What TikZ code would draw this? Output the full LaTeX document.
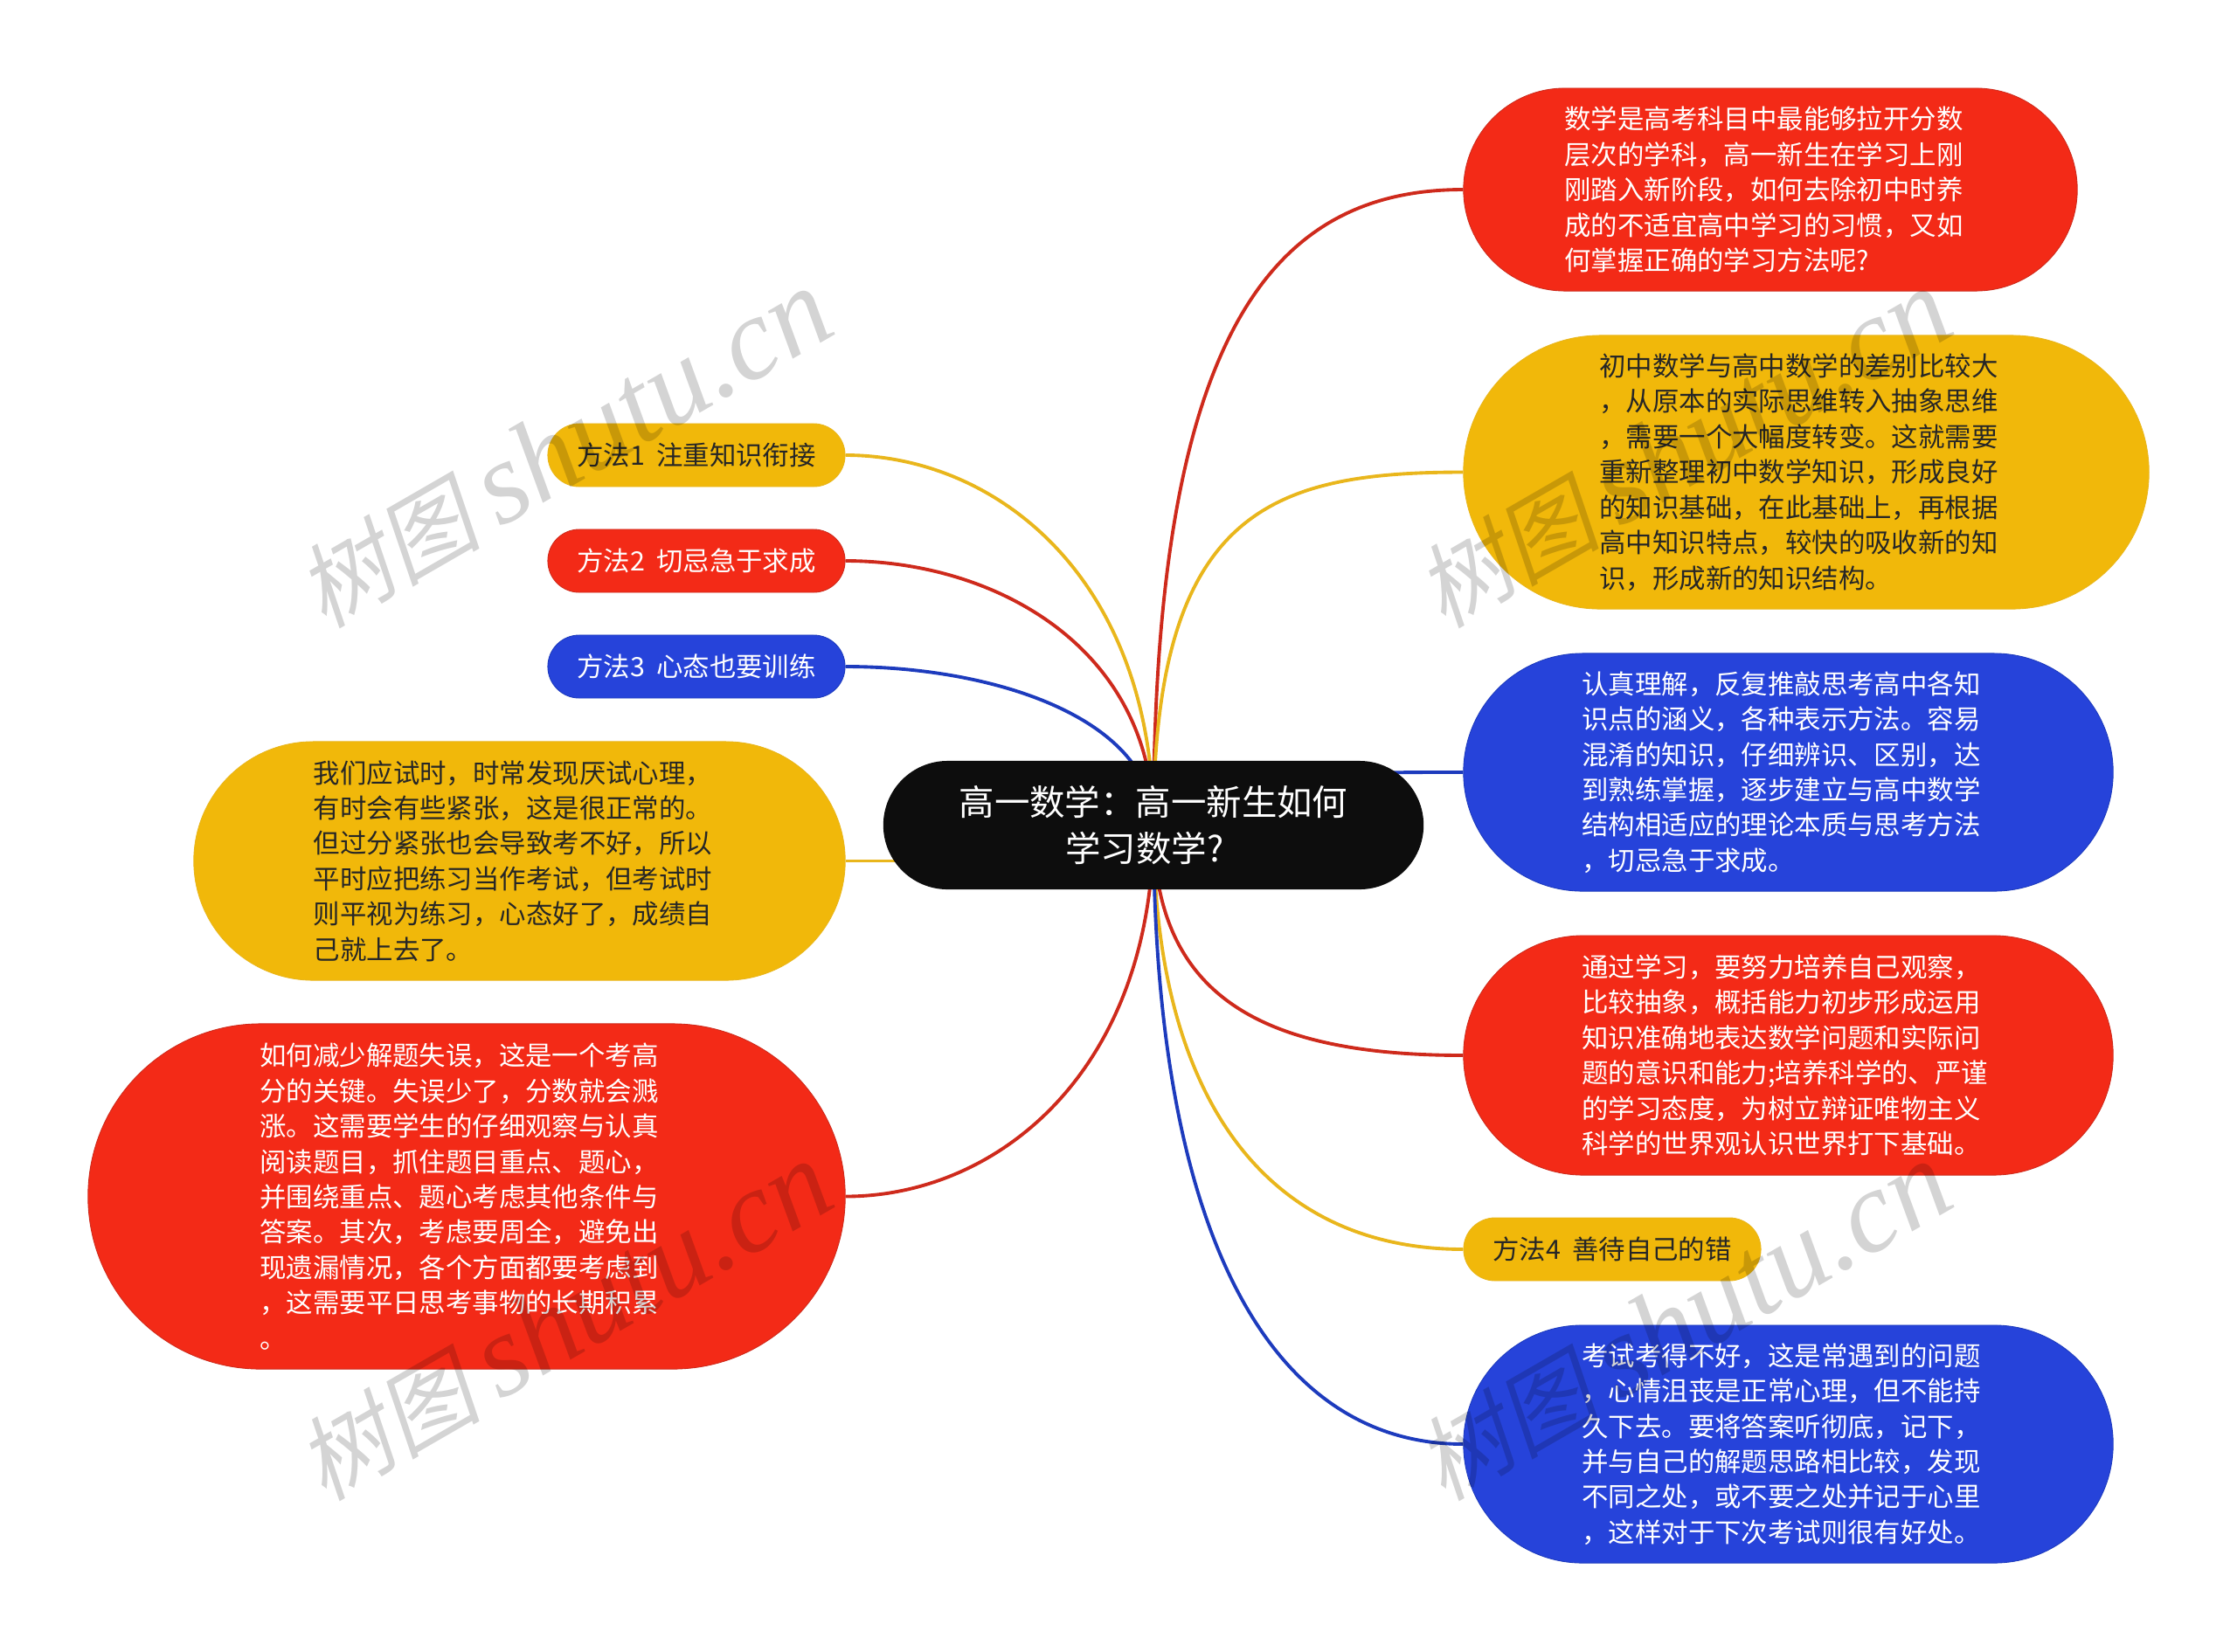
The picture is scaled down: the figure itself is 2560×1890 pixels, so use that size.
\documentclass[tikz,border=0pt]{standalone}
\usepackage{fontspec}
\setmainfont{Noto Sans CJK SC}
\newfontfamily\wmcjk[FakeSlant=0.2]{Noto Sans CJK SC}
\newfontfamily\wmlatin{Liberation Serif Italic}
\usepackage{tikz}
\usetikzlibrary{backgrounds}
\definecolor{myred}{HTML}{F32A17}
\definecolor{myyellow}{HTML}{F1B80A}
\definecolor{myblue}{HTML}{2643DA}
\definecolor{myblack}{HTML}{0D0D0D}
\definecolor{redline}{HTML}{CE2A1C}
\definecolor{yellowline}{HTML}{E9B61C}
\definecolor{blueline}{HTML}{1D3BBD}
\newcommand{\marktext}{{\fontsize{30}{32}\selectfont\wmcjk 树图}\hspace{6pt}{\fontsize{38}{40}\selectfont\wmlatin shutu.cn}}
\tikzset{
    pill/.style n args={3}{rectangle, minimum width=#1cm, minimum height=#2cm,
        rounded corners=0.5*#2cm, text width=#3cm, align=left, inner sep=0pt,
        font=\fontsize{8.65}{11.5}\selectfont},
    tagpill/.style={rectangle, minimum width=3.4cm, minimum height=0.72cm,
        rounded corners=0.36cm, align=center, inner sep=0pt,
        font=\fontsize{8.65}{11.5}\selectfont},
    rednode/.style={fill=myred, draw=redline, line width=0.25pt, text=white},
    yellownode/.style={fill=myyellow, draw=yellowline, line width=0.25pt, text=black!85},
    bluenode/.style={fill=myblue, draw=blueline, line width=0.25pt, text=white},
    branch/.style={line width=1.1pt},
    watermark/.style={rotate=30, text=black, text opacity=0.17, inner sep=0pt}
}
\begin{document}
\begin{tikzpicture}[x=0.01cm, y=-0.01cm]
    \useasboundingbox (0,0) rectangle (2560,1890);

    % Centre
    \node[rectangle, fill=myblack, text=white, minimum width=6.18cm, minimum height=1.47cm,
        rounded corners=0.735cm, align=center, inner sep=0pt,
        font=\fontsize{11.5}{15.1}\selectfont] (root) at (1320,944.5)
        {高一数学：高一新生如何\\学习数学?\hspace*{5.7pt}};

    % Right side
    \node[pill={7.02}{2.32}{4.71}, rednode] (goal) at (2026,217)
        {数学是高考科目中最能够拉开分数\\层次的学科，高一新生在学习上刚\\刚踏入新阶段，如何去除初中时养\\成的不适宜高中学习的习惯，又如\\何掌握正确的学习方法呢?};
    \node[pill={7.84}{3.13}{4.73}, yellownode] (gap) at (2067,540.5)
        {初中数学与高中数学的差别比较大\\，从原本的实际思维转入抽象思维\\，需要一个大幅度转变。这就需要\\重新整理初中数学知识，形成良好\\的知识基础，在此基础上，再根据\\高中知识特点，较快的吸收新的知\\识，形成新的知识结构。};
    \node[pill={7.43}{2.72}{4.72}, bluenode] (theory) at (2046.5,884)
        {认真理解，反复推敲思考高中各知\\识点的涵义，各种表示方法。容易\\混淆的知识，仔细辨识、区别，达\\到熟练掌握，逐步建立与高中数学\\结构相适应的理论本质与思考方法\\，切忌急于求成。};
    \node[pill={7.43}{2.74}{4.72}, rednode] (ability) at (2046.5,1208)
        {通过学习，要努力培养自己观察，\\比较抽象，概括能力初步形成运用\\知识准确地表达数学问题和实际问\\题的意识和能力;培养科学的、严谨\\的学习态度，为树立辩证唯物主义\\科学的世界观认识世界打下基础。};
    \node[tagpill, yellownode] (methodD) at (1845,1430) {方法4\hspace{0.44em}善待自己的错};
    \node[pill={7.43}{2.72}{4.72}, bluenode] (exam) at (2046.5,1653)
        {考试考得不好，这是常遇到的问题\\，心情沮丧是正常心理，但不能持\\久下去。要将答案听彻底，记下，\\并与自己的解题思路相比较，发现\\不同之处，或不要之处并记于心里\\，这样对于下次考试则很有好处。};

    % Left side
    \node[tagpill, yellownode] (methodA) at (797,521) {方法1\hspace{0.44em}注重知识衔接};
    \node[tagpill, rednode] (methodB) at (797,642) {方法2\hspace{0.44em}切忌急于求成};
    \node[tagpill, bluenode] (methodC) at (797,763) {方法3\hspace{0.44em}心态也要训练};
    \node[pill={7.45}{2.73}{4.71}, yellownode] (mood) at (594.5,985.5)
        {我们应试时，时常发现厌试心理，\\有时会有些紧张，这是很正常的。\\但过分紧张也会导致考不好，所以\\平时应把练习当作考试，但考试时\\则平视为练习，心态好了，成绩自\\己就上去了。};
    \node[pill={8.66}{3.95}{4.73}, rednode] (mistake) at (534,1369.5)
        {如何减少解题失误，这是一个考高\\分的关键。失误少了，分数就会溅\\涨。这需要学生的仔细观察与认真\\阅读题目，抓住题目重点、题心，\\并围绕重点、题心考虑其他条件与\\答案。其次，考虑要周全，避免出\\现遗漏情况，各个方面都要考虑到\\，这需要平日思考事物的长期积累\\。};

    % Watermarks
    \node[watermark] (markA) at (645,514) {\marktext};
    \node[watermark] (markB) at (1926,514) {\marktext};
    \node[watermark] (markC) at (645,1513) {\marktext};
    \node[watermark] (markD) at (1926,1513) {\marktext};

    % Connect centre to branches
    \begin{scope}[on background layer]
        \draw[branch, redline] (root.center) .. controls +(0,-560) and +(-220,0) .. (goal.west);
        \draw[branch, yellowline] (root.center) .. controls +(0,-360) and +(-220,0) .. (gap.west);
        \draw[branch, blueline] (root.center) .. controls +(200,-60) and +(-200,0) .. (theory.west);
        \draw[branch, redline] (root.center) .. controls +(0,190) and +(-240,0) .. (ability.west);
        \draw[branch, yellowline] (root.center) .. controls +(0,320) and +(-220,0) .. (methodD.west);
        \draw[branch, blueline] (root.center) .. controls +(0,470) and +(-220,0) .. (exam.west);
        \draw[branch, yellowline] (root.center) .. controls +(0,-280) and +(175,0) .. (methodA.east);
        \draw[branch, redline] (root.center) .. controls +(0,-200) and +(175,0) .. (methodB.east);
        \draw[branch, blueline] (root.center) .. controls +(0,-120) and +(175,0) .. (methodC.east);
        \draw[branch, yellowline] (root.center |- mood.east) -- (mood.east);
        \draw[branch, redline] (root.center) .. controls +(0,280) and +(175,0) .. (mistake.east);
    \end{scope}
\end{tikzpicture}
\end{document}
